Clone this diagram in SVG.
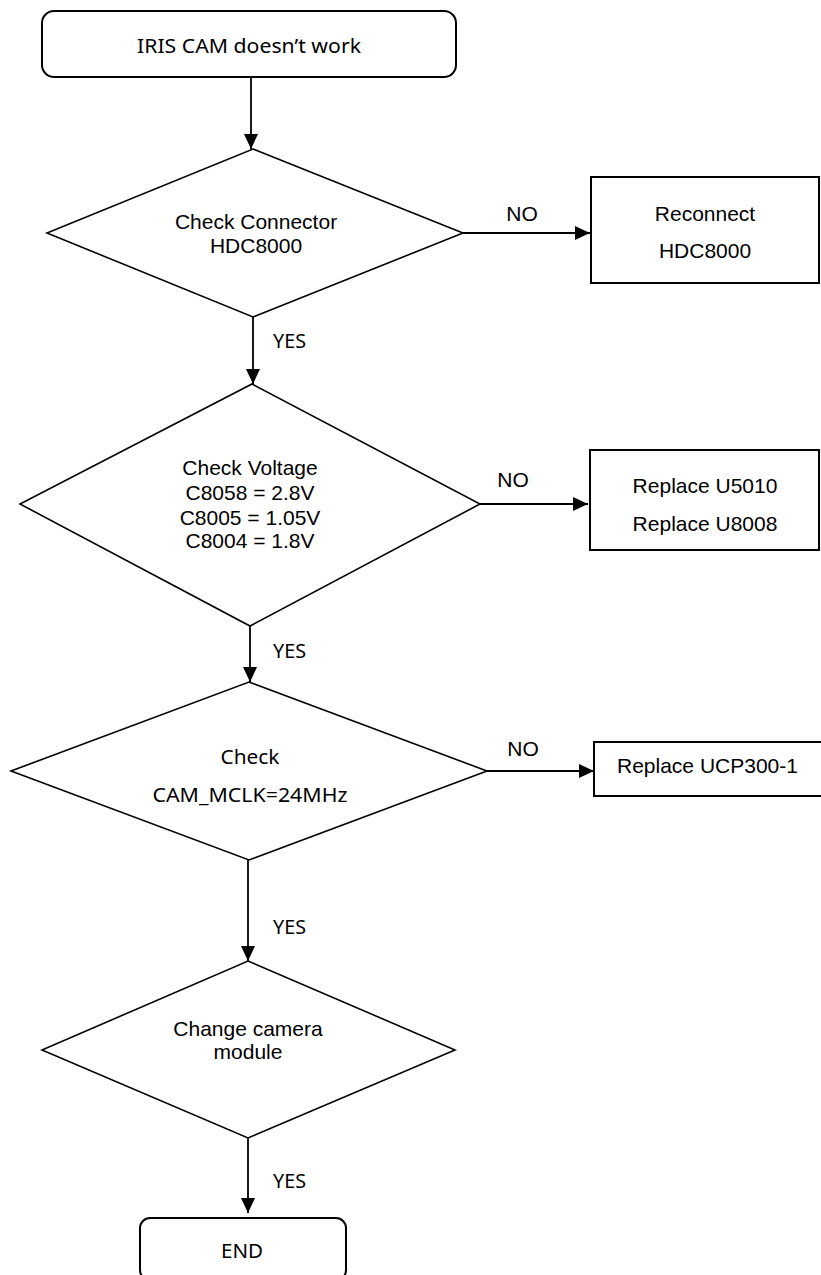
<svg xmlns="http://www.w3.org/2000/svg" width="821" height="1275" viewBox="0 0 821 1275">
<style>
.shape{fill:#fff;stroke:#000;stroke-width:1.6}
.box{fill:#fff;stroke:#000;stroke-width:2}
.conn{fill:none;stroke:#000;stroke-width:1.8}
.a{font-family:"Liberation Sans",Arial,sans-serif;font-size:21px;fill:#000;text-anchor:middle}
.m{font-family:"Malgun Gothic","Noto Sans","Open Sans",sans-serif;font-size:20px;fill:#000;text-anchor:middle}
.ml{font-family:"Malgun Gothic","Noto Sans","Open Sans",sans-serif;font-size:20px;fill:#000}
</style>
<defs>
<marker id="arr" markerUnits="userSpaceOnUse" markerWidth="16" markerHeight="16" refX="15" refY="7" orient="auto">
<path d="M0,0 L15,7 L0,14 z" fill="#000"/>
</marker>
</defs>
<rect width="821" height="1275" fill="#fff"/>
<g id="connectors">
<line class="conn" x1="251" y1="78" x2="251" y2="149" marker-end="url(#arr)"/>
<line class="conn" x1="253" y1="317" x2="253" y2="384" marker-end="url(#arr)"/>
<line class="conn" x1="250" y1="626" x2="250" y2="682" marker-end="url(#arr)"/>
<line class="conn" x1="248" y1="860" x2="248" y2="961" marker-end="url(#arr)"/>
<line class="conn" x1="248" y1="1138" x2="248" y2="1213" marker-end="url(#arr)"/>
<line class="conn" x1="463" y1="233" x2="590" y2="233" marker-end="url(#arr)"/>
<line class="conn" x1="480" y1="504" x2="588" y2="504" marker-end="url(#arr)"/>
<line class="conn" x1="487" y1="771" x2="594" y2="771" marker-end="url(#arr)"/>
<text class="ml" x="273" y="348" textLength="33" lengthAdjust="spacingAndGlyphs">YES</text>
<text class="ml" x="273" y="658" textLength="33" lengthAdjust="spacingAndGlyphs">YES</text>
<text class="ml" x="273" y="934" textLength="33" lengthAdjust="spacingAndGlyphs">YES</text>
<text class="ml" x="273" y="1188" textLength="33" lengthAdjust="spacingAndGlyphs">YES</text>
<text class="a" x="522" y="221">NO</text>
<text class="a" x="513" y="487">NO</text>
<text class="a" x="523" y="756">NO</text>
</g>
<g id="start">
<rect class="box" x="42" y="11" width="414" height="66" rx="12" ry="12"/>
<text class="m" x="249" y="53" textLength="224" lengthAdjust="spacingAndGlyphs">IRIS CAM doesn’t work</text>
</g>
<g id="d1">
<polygon class="shape" points="253,149 463,233 253,317 47,233"/>
<text class="a" x="256" y="229">Check Connector</text>
<text class="a" x="256" y="253">HDC8000</text>
</g>
<g id="b1">
<rect class="box" x="591" y="177" width="228" height="106"/>
<text class="a" x="705" y="221">Reconnect</text>
<text class="a" x="705" y="258">HDC8000</text>
</g>
<g id="d2">
<polygon class="shape" points="252,384 480,504 250,626 20,504"/>
<text class="a" x="250" y="475">Check Voltage</text>
<text class="a" x="250" y="500">C8058 = 2.8V</text>
<text class="a" x="250" y="525">C8005 = 1.05V</text>
<text class="a" x="250" y="548">C8004 = 1.8V</text>
</g>
<g id="b2">
<rect class="box" x="590" y="450" width="229" height="100"/>
<text class="a" x="705" y="493">Replace U5010</text>
<text class="a" x="705" y="531">Replace U8008</text>
</g>
<g id="d3">
<polygon class="shape" points="249,682 487,771 249,860 11,771"/>
<text class="m" x="250" y="764" textLength="59" lengthAdjust="spacingAndGlyphs">Check</text>
<text class="m" x="250" y="802" textLength="195" lengthAdjust="spacingAndGlyphs">CAM_MCLK=24MHz</text>
</g>
<g id="b3">
<rect class="box" x="594" y="742" width="240" height="54"/>
<text class="a" x="617" y="773" style="text-anchor:start">Replace UCP300-1</text>
</g>
<g id="d4">
<polygon class="shape" points="248,961 455,1050 248,1138 42,1050"/>
<text class="a" x="248" y="1036">Change camera</text>
<text class="a" x="248" y="1059">module</text>
</g>
<g id="end">
<rect class="box" x="140" y="1218" width="206" height="62" rx="10" ry="10"/>
<text class="m" x="242" y="1258" textLength="42" lengthAdjust="spacingAndGlyphs">END</text>
</g>
</svg>
